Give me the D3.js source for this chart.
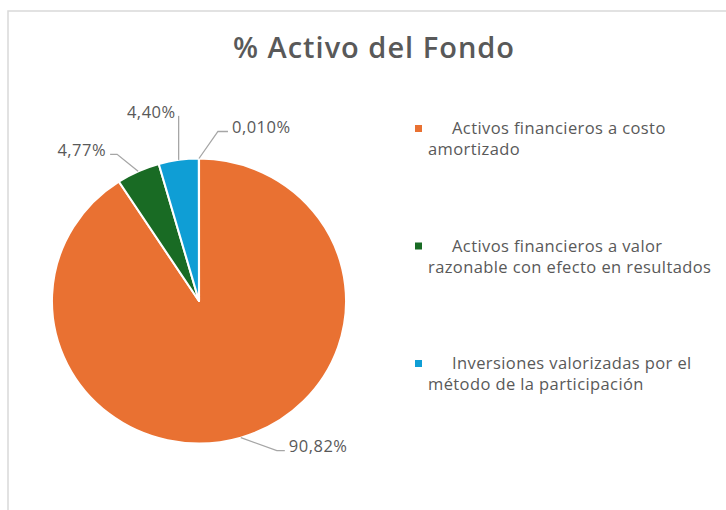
<!DOCTYPE html>
<html>
<head>
<meta charset="utf-8">
<script src="https://cdn.jsdelivr.net/npm/d3@7"></script>
<style>
  body { margin: 0; background: #fff; }
  svg { display: block; }
</style>
</head>
<body>
<div id="chart"></div>
<script>
// Datos
const categories = [
    "Activos financieros a costo amortizado",
    "Activos financieros a valor razonable con efecto en resultados",
    "Inversiones valorizadas por el método de la participación",
    "Otros"
];
const values = [90.82, 4.77, 4.40, 0.010];
const valueLabels = ["90,82%", "4,77%", "4,40%", "0,010%"];
// legend only shows the first three
const legendLines = [
    ["Activos financieros a costo", "amortizado"],
    ["Activos financieros a valor", "razonable con efecto en resultados"],
    ["Inversiones valorizadas por el", "método de la participación"]
];
const colors = ["#E97132", "#196B24", "#0F9ED5", "#A02B93"];

// Dimensiones
const width = 726;
const height = 510;
const cx = 199, cy = 301, radius = 142.5, sx = 1.032;
const textColor = "#595959";

// posición de etiquetas (codo relativo al punto del arco, tramo horizontal)
const labelLayout = [
    { dx: 36, dy: 13, run: 8, anchor: "start" },
    { dx: -21, dy: -17, run: -7, anchor: "end" },
    { dx: 0, dy: -44, run: 0, anchor: "end" },
    { dx: 19, dy: -27, run: 10, anchor: "start" }
];

const svg = d3.select("#chart")
    .append("svg")
    .attr("width", width)
    .attr("height", height);

// marco
svg.append("path")
    .attr("d", `M8,${height} L8,11 L${width},11`)
    .attr("fill", "none")
    .attr("stroke", "#d9d9d9")
    .attr("stroke-width", 1.5);

// Título
svg.append("text")
    .attr("x", 374)
    .attr("y", 58)
    .attr("text-anchor", "middle")
    .style("font-family", "'Open Sans', sans-serif")
    .style("font-weight", 600)
    .style("font-size", "29px")
    .style("letter-spacing", "1px")
    .style("fill", textColor)
    .text("% Activo del Fondo");

// Pastel
const pie = d3.pie().sort(null).value(d => d)(values);
const arc = d3.arc().innerRadius(0).outerRadius(radius);

const g = svg.append("g")
    .attr("transform", `translate(${cx},${cy}) scale(${sx},1)`);

g.selectAll("path")
    .data(pie)
    .enter()
    .append("path")
    .attr("d", arc)
    .attr("fill", (d, i) => colors[i])
    .attr("stroke", "#fff")
    .attr("stroke-width", 2)
    .attr("stroke-linejoin", "round");

// Etiquetas con líneas guía
pie.forEach((d, i) => {
    const a = (d.startAngle + d.endAngle) / 2;
    const px = cx + Math.sin(a) * radius * sx;
    const py = cy - Math.cos(a) * radius;
    const L = labelLayout[i];
    const ex = px + L.dx, ey = py + L.dy;
    const hx = ex + L.run;
    svg.append("polyline")
        .attr("points", `${px},${py} ${ex},${ey} ${hx},${ey}`)
        .attr("fill", "none")
        .attr("stroke", "#a6a6a6")
        .attr("stroke-width", 1.3);
    let tx = hx + (L.anchor === "start" ? 4 : -4);
    let ty = ey + 1.5;
    if (L.run === 0) { tx = ex - 3; ty = ey + 2; }
    svg.append("text")
        .attr("x", tx)
        .attr("y", ty)
        .attr("text-anchor", L.anchor)
        .style("font-family", "'Open Sans', sans-serif")
        .style("font-size", "16.5px")
        .style("letter-spacing", "0.5px")
        .style("fill", textColor)
        .text(valueLabels[i]);
});

// Leyenda
const legend = svg.selectAll("g.legend")
    .data(legendLines)
    .enter()
    .append("g")
    .attr("class", "legend")
    .attr("transform", (d, i) => `translate(0,${134 + i * 117.5})`);

legend.append("rect")
    .attr("x", 415)
    .attr("y", -9)
    .attr("width", 7)
    .attr("height", 7)
    .attr("fill", (d, i) => colors[i]);

legend.append("text")
    .attr("x", 452)
    .attr("y", 0)
    .style("font-family", "'Open Sans', sans-serif")
    .style("font-size", "16.5px")
    .style("letter-spacing", "0.4px")
    .style("fill", textColor)
    .text(d => d[0]);

legend.append("text")
    .attr("x", 428)
    .attr("y", 21)
    .style("font-family", "'Open Sans', sans-serif")
    .style("font-size", "16.5px")
    .style("letter-spacing", "0.4px")
    .style("fill", textColor)
    .text(d => d[1]);
</script>
</body>
</html>
